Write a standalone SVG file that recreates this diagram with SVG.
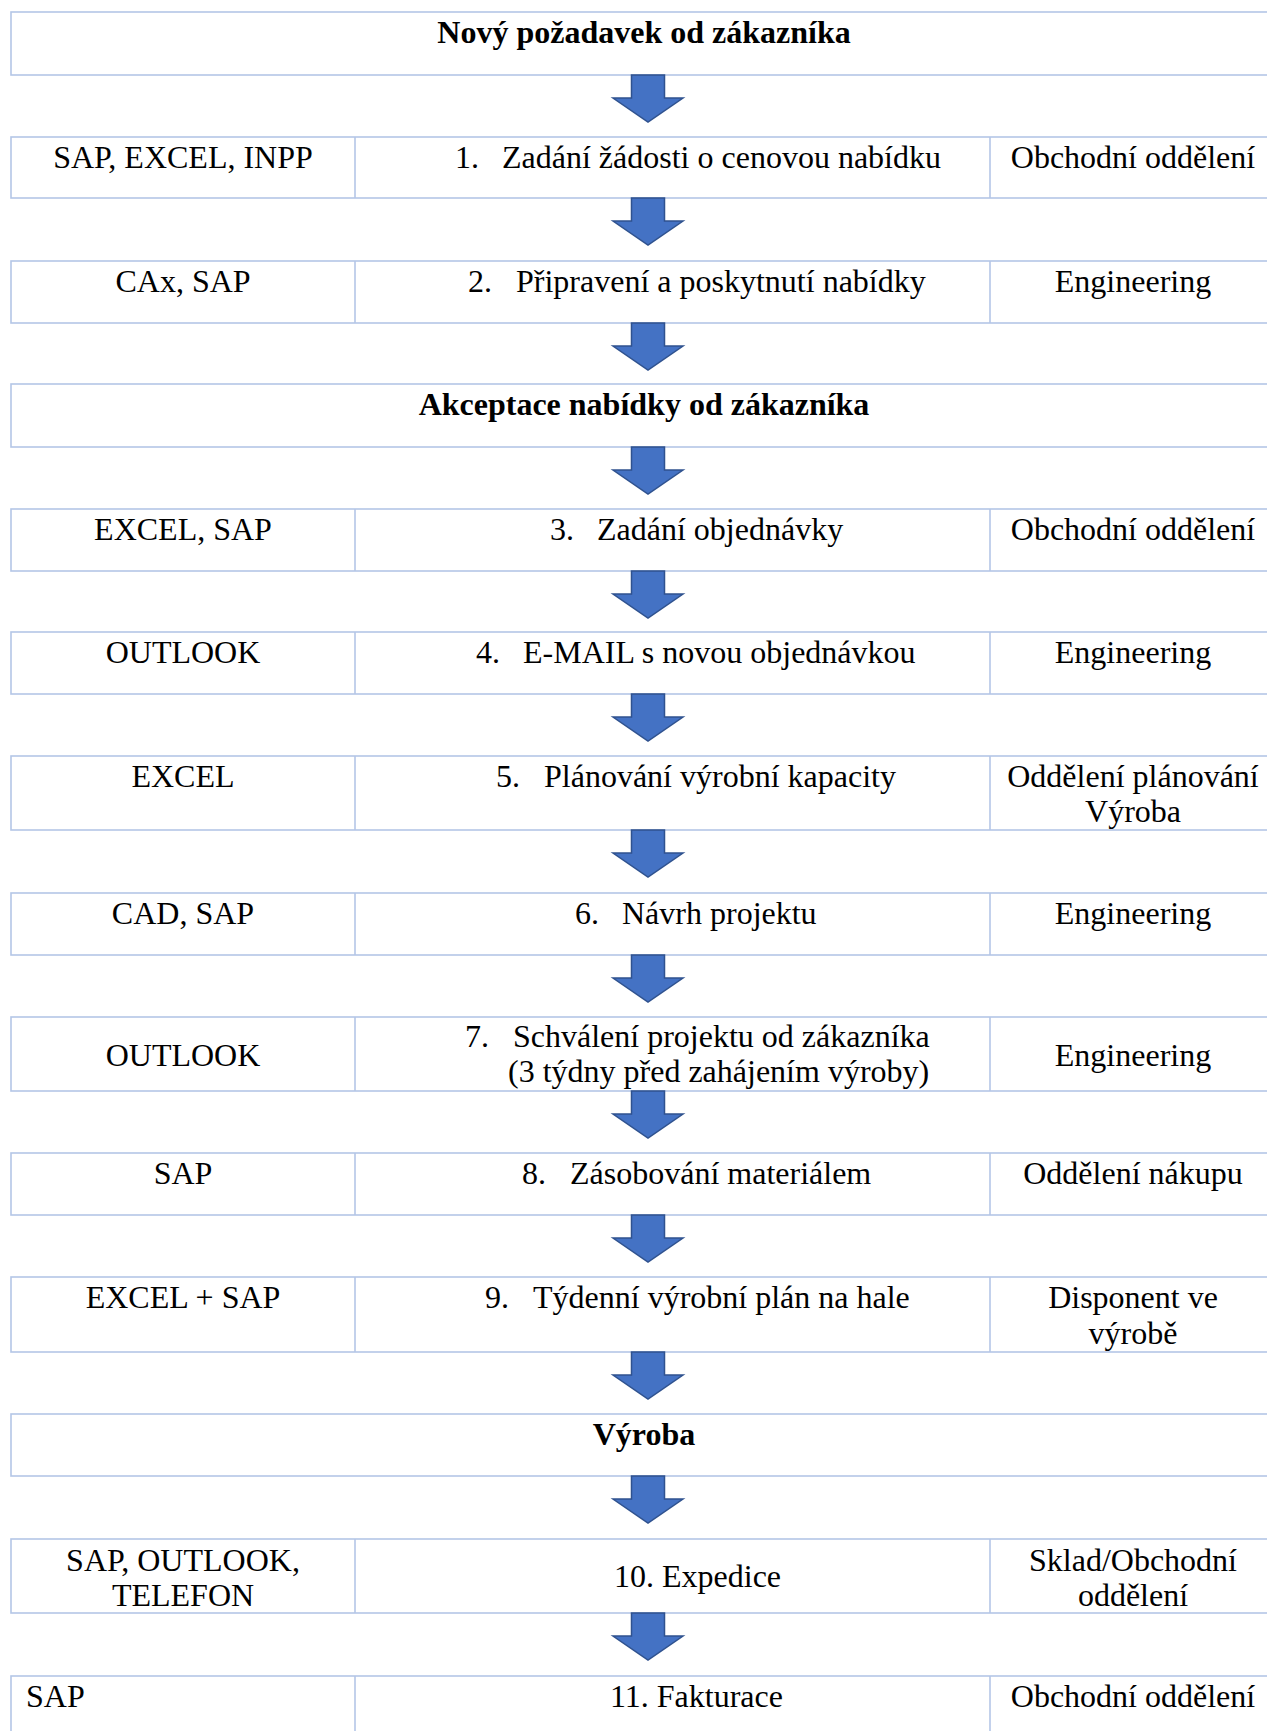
<svg xmlns="http://www.w3.org/2000/svg" width="1267" height="1731" viewBox="0 0 1267 1731">
  <style>
    .cell { fill: #FFFFFF; stroke: #B4C6E7; stroke-width: 1.6; }
    .div { stroke: #B4C6E7; stroke-width: 1.6; }
    text { font-family: "Liberation Serif", "Times New Roman", serif; font-size: 32px; fill: #000000; }
    .title { font-weight: bold; text-anchor: middle; }
    .c1 { text-anchor: middle; }
    .c3 { text-anchor: middle; }
    .mid { text-anchor: middle; }
    .arrow { fill: #4472C4; stroke: #2F528F; stroke-width: 1.5; stroke-linejoin: miter; }
  </style>
  <defs>
    <!-- block arrow pointing down; origin at top centre of the shaft -->
    <path id="down" class="arrow" d="M-16.5,0 H16.5 V23 H35 L0,47 L-35,23 H-16.5 Z"/>
  </defs>
  <rect width="1267" height="1731" fill="#FFFFFF"/>

  <!-- process steps -->
  <g id="start">
    <rect class="cell" x="11" y="12" width="1270" height="63"/>
    <text class="title" x="644" y="43">Nový požadavek od zákazníka</text>
  </g>

  <g id="step1">
    <rect class="cell" x="11" y="137" width="1270" height="61"/>
    <line class="div" x1="355" y1="137" x2="355" y2="198"/>
    <line class="div" x1="990" y1="137" x2="990" y2="198"/>
    <text class="c1" x="183" y="168">SAP, EXCEL, INPP</text>
    <text y="168"><tspan x="455">1.</tspan><tspan x="502">Zadání žádosti o cenovou nabídku</tspan></text>
    <text class="c3" x="1133" y="168">Obchodní oddělení</text>
  </g>

  <g id="step2">
    <rect class="cell" x="11" y="261" width="1270" height="62"/>
    <line class="div" x1="355" y1="261" x2="355" y2="323"/>
    <line class="div" x1="990" y1="261" x2="990" y2="323"/>
    <text class="c1" x="183" y="292">CAx, SAP</text>
    <text y="292"><tspan x="468">2.</tspan><tspan x="516">Připravení a poskytnutí nabídky</tspan></text>
    <text class="c3" x="1133" y="292">Engineering</text>
  </g>

  <g id="acceptance">
    <rect class="cell" x="11" y="384" width="1270" height="63"/>
    <text class="title" x="644" y="415">Akceptace nabídky od zákazníka</text>
  </g>

  <g id="step3">
    <rect class="cell" x="11" y="509" width="1270" height="62"/>
    <line class="div" x1="355" y1="509" x2="355" y2="571"/>
    <line class="div" x1="990" y1="509" x2="990" y2="571"/>
    <text class="c1" x="183" y="540">EXCEL, SAP</text>
    <text y="540"><tspan x="550">3.</tspan><tspan x="597">Zadání objednávky</tspan></text>
    <text class="c3" x="1133" y="540">Obchodní oddělení</text>
  </g>

  <g id="step4">
    <rect class="cell" x="11" y="632" width="1270" height="62"/>
    <line class="div" x1="355" y1="632" x2="355" y2="694"/>
    <line class="div" x1="990" y1="632" x2="990" y2="694"/>
    <text class="c1" x="183" y="663">OUTLOOK</text>
    <text y="663"><tspan x="476">4.</tspan><tspan x="523">E-MAIL s novou objednávkou</tspan></text>
    <text class="c3" x="1133" y="663">Engineering</text>
  </g>

  <g id="step5">
    <rect class="cell" x="11" y="756" width="1270" height="74"/>
    <line class="div" x1="355" y1="756" x2="355" y2="830"/>
    <line class="div" x1="990" y1="756" x2="990" y2="830"/>
    <text class="c1" x="183" y="787">EXCEL</text>
    <text y="787"><tspan x="496">5.</tspan><tspan x="544">Plánování výrobní kapacity</tspan></text>
    <text class="c3" x="1133" y="787">Oddělení plánování</text>
    <text class="c3" x="1133" y="822">Výroba</text>
  </g>

  <g id="step6">
    <rect class="cell" x="11" y="893" width="1270" height="62"/>
    <line class="div" x1="355" y1="893" x2="355" y2="955"/>
    <line class="div" x1="990" y1="893" x2="990" y2="955"/>
    <text class="c1" x="183" y="924">CAD, SAP</text>
    <text y="924"><tspan x="575">6.</tspan><tspan x="622">Návrh projektu</tspan></text>
    <text class="c3" x="1133" y="924">Engineering</text>
  </g>

  <g id="step7">
    <rect class="cell" x="11" y="1017" width="1270" height="74"/>
    <line class="div" x1="355" y1="1017" x2="355" y2="1091"/>
    <line class="div" x1="990" y1="1017" x2="990" y2="1091"/>
    <text class="c1" x="183" y="1066">OUTLOOK</text>
    <text y="1047"><tspan x="465">7.</tspan><tspan x="513">Schválení projektu od zákazníka</tspan></text>
    <text x="508" y="1082">(3 týdny před zahájením výroby)</text>
    <text class="c3" x="1133" y="1066">Engineering</text>
  </g>

  <g id="step8">
    <rect class="cell" x="11" y="1153" width="1270" height="62"/>
    <line class="div" x1="355" y1="1153" x2="355" y2="1215"/>
    <line class="div" x1="990" y1="1153" x2="990" y2="1215"/>
    <text class="c1" x="183" y="1184">SAP</text>
    <text y="1184"><tspan x="522">8.</tspan><tspan x="570">Zásobování materiálem</tspan></text>
    <text class="c3" x="1133" y="1184">Oddělení nákupu</text>
  </g>

  <g id="step9">
    <rect class="cell" x="11" y="1277" width="1270" height="75"/>
    <line class="div" x1="355" y1="1277" x2="355" y2="1352"/>
    <line class="div" x1="990" y1="1277" x2="990" y2="1352"/>
    <text class="c1" x="183" y="1308">EXCEL + SAP</text>
    <text y="1308"><tspan x="485">9.</tspan><tspan x="533">Týdenní výrobní plán na hale</tspan></text>
    <text class="c3" x="1133" y="1308">Disponent ve</text>
    <text class="c3" x="1133" y="1344">výrobě</text>
  </g>

  <g id="production">
    <rect class="cell" x="11" y="1414" width="1270" height="62"/>
    <text class="title" x="644" y="1445">Výroba</text>
  </g>

  <g id="step10">
    <rect class="cell" x="11" y="1539" width="1270" height="74"/>
    <line class="div" x1="355" y1="1539" x2="355" y2="1613"/>
    <line class="div" x1="990" y1="1539" x2="990" y2="1613"/>
    <text class="c1" x="183" y="1571">SAP, OUTLOOK,</text>
    <text class="c1" x="183" y="1606">TELEFON</text>
    <text x="614" y="1587">10. Expedice</text>
    <text class="c3" x="1133" y="1571">Sklad/Obchodní</text>
    <text class="c3" x="1133" y="1606">oddělení</text>
  </g>

  <g id="step11">
    <rect class="cell" x="11" y="1676" width="1270" height="80"/>
    <line class="div" x1="355" y1="1676" x2="355" y2="1756"/>
    <line class="div" x1="990" y1="1676" x2="990" y2="1756"/>
    <text x="26" y="1707">SAP</text>
    <text x="610" y="1707">11. Fakturace</text>
    <text class="c3" x="1133" y="1707">Obchodní oddělení</text>
  </g>

  <!-- flow arrows between steps -->
  <g id="connectors">
    <use href="#down" x="648" y="75"/>
    <use href="#down" x="648" y="198"/>
    <use href="#down" x="648" y="323"/>
    <use href="#down" x="648" y="447"/>
    <use href="#down" x="648" y="571"/>
    <use href="#down" x="648" y="694"/>
    <use href="#down" x="648" y="830"/>
    <use href="#down" x="648" y="955"/>
    <use href="#down" x="648" y="1091"/>
    <use href="#down" x="648" y="1215"/>
    <use href="#down" x="648" y="1352"/>
    <use href="#down" x="648" y="1476"/>
    <use href="#down" x="648" y="1613"/>
  </g>
</svg>
